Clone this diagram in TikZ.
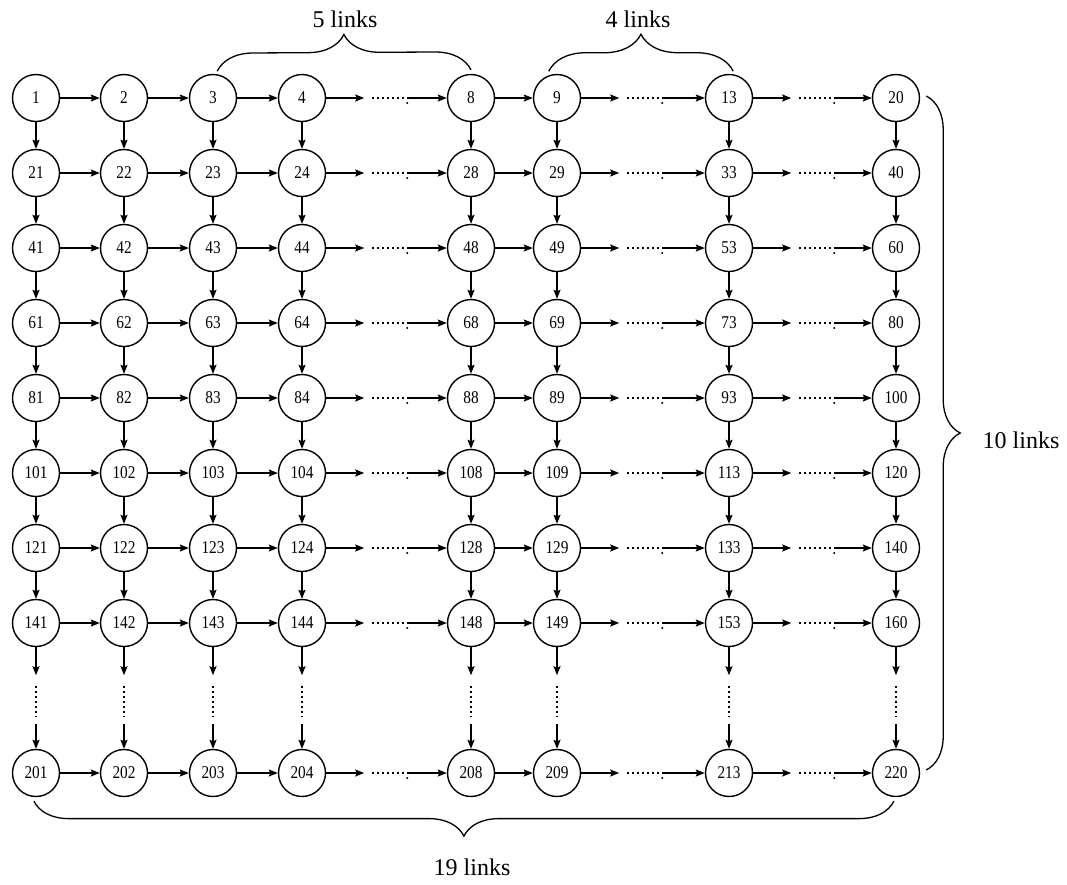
\documentclass[tikz,border=0pt]{standalone}
\usepackage{fontspec}
\setmainfont{Liberation Serif}
\newfontfamily\numfont{Liberation Serif}[FakeStretch=0.85]
\usetikzlibrary{arrows.meta,calc,decorations.pathreplacing}
\begin{document}
\begin{tikzpicture}[x=1pt,y=-1pt,
  vertex/.style={circle,draw,line width=1.4pt,minimum size=47pt,inner sep=0pt,
    font=\numfont\fontsize{18}{18}\selectfont},
  conn/.style={line width=1.5pt,-{Stealth[length=9pt,width=7pt,inset=1.5pt]}},
  dots/.style={line width=2pt,dash pattern=on 2pt off 3pt},
  bracestyle/.style={line width=1.3pt,decorate},
  lbl/.style={font=\fontsize{24}{24}\selectfont}]
\useasboundingbox (0,0) rectangle (1067,884);
% grid of nodes
\def\colx{{36,124,213,302,471,557,729,896}}
\def\colv{{1,2,3,4,8,9,13,20}}
\def\rowy{{98,173,248,323,398,473,548,623,773}}
\foreach \r in {0,...,8}{
  \foreach \c in {1,...,8}{
    \pgfmathsetmacro{\xx}{\colx[\c-1]}
    \pgfmathsetmacro{\yy}{\rowy[\r]}
    \pgfmathtruncatemacro{\vv}{\colv[\c-1]+20*\r+(\r==8?40:0)}
    \node[vertex] (n-\r-\c) at (\xx,\yy) {\vv};
  }
}
% horizontal connectors
\foreach \r in {0,...,8}{
  \draw[conn] (n-\r-1) -- (n-\r-2);
  \draw[conn] (n-\r-2) -- (n-\r-3);
  \draw[conn] (n-\r-3) -- (n-\r-4);
  \draw[conn] (n-\r-5) -- (n-\r-6);
  \foreach \a/\b in {4/5,6/7,7/8}{
    \coordinate (t-\r-\a) at ($(n-\r-\a.east)+(38,0)$);
    \coordinate (ds-\r-\a) at ($(t-\r-\a)+(8,0)$);
    \coordinate (de-\r-\a) at ($(t-\r-\a)+(40,0)$);
    \coordinate (p-\r-\a) at ($(t-\r-\a)+(43,0)$);
    \draw[conn] (n-\r-\a.east) -- (t-\r-\a);
    \draw[dots] (ds-\r-\a) -- (de-\r-\a);
    \fill ($(p-\r-\a)+(0,5)$) circle (1.1pt);
    \draw[conn] (p-\r-\a) -- (n-\r-\b.west);
  }
}
% vertical connectors
\foreach \c in {1,...,8}{
  \foreach \r [evaluate=\r as \s using int(\r+1)] in {0,...,6}{
    \draw[conn] (n-\r-\c) -- (n-\s-\c);
  }
  \coordinate (vt-\c) at ($(n-7-\c.south)+(0,28)$);
  \coordinate (vs-\c) at ($(n-7-\c.south)+(0,39)$);
  \coordinate (ve-\c) at ($(n-7-\c.south)+(0,70)$);
  \coordinate (vp-\c) at ($(n-7-\c.south)+(0,77)$);
  \draw[conn] (n-7-\c.south) -- (vt-\c);
  \draw[dots] (vs-\c) -- (ve-\c);
  \draw[conn] (vp-\c) -- (n-8-\c.north);
}
% braces
\draw[bracestyle,decoration={brace,amplitude=36pt}]
  ($(n-0-3.80)+(0,-3)$) -- ($(n-0-5.90)+(0,-4)$);
\node[lbl] (l5) at (345,19) {5 links};
\draw[bracestyle,decoration={brace,amplitude=37pt}]
  ($(n-0-6.110)+(0,-4)$) -- ($(n-0-7.80)+(0,-3)$);
\node[lbl] (l4) at (638,19) {4 links};
\draw[bracestyle,decoration={brace,amplitude=34pt}]
  ($(n-0-8.east)+(6,-2)$) -- ($(n-8-8.east)+(6,-3)$);
\node[lbl] (l10) at (1021,440) {10 links};
\draw[bracestyle,decoration={brace,amplitude=35pt}]
  ($(n-8-8.265)+(0,4)$) -- ($(n-8-1.265)+(0,4)$);
\node[lbl] (l19) at (472,867) {19 links};
\end{tikzpicture}
\end{document}
